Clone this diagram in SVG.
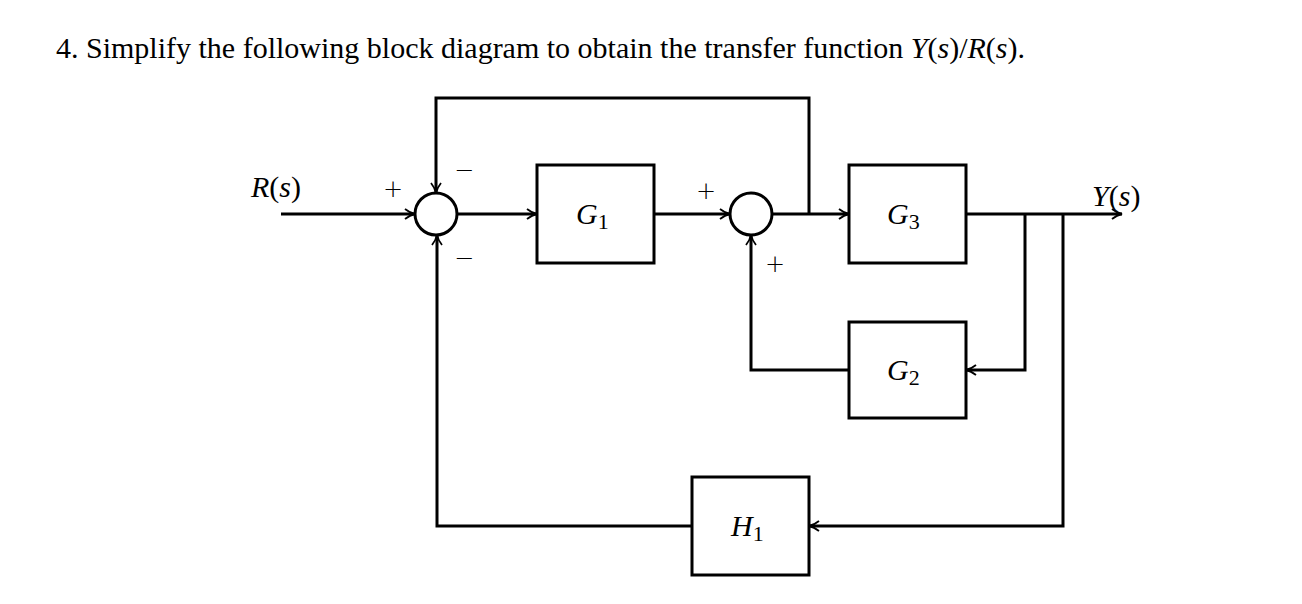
<svg xmlns="http://www.w3.org/2000/svg" width="1302" height="604" viewBox="0 0 1302 604">
<style>
.ln{fill:none;stroke:#000;stroke-width:3}
.bx{fill:#fff;stroke:#000;stroke-width:3}
.t{font-family:"Liberation Serif",serif;font-size:30px}
.g{font-family:"Liberation Serif",serif;font-size:30px}
.p{font-family:"DejaVu Sans",sans-serif;font-size:24px;font-weight:200}
</style>
<defs>
<marker id="a" viewBox="0 0 12 12" refX="11" refY="6" markerWidth="12" markerHeight="12" markerUnits="userSpaceOnUse" orient="auto"><path d="M1,1 Q6,5 11,6 Q6,7 1,11" fill="none" stroke="#000" stroke-width="1.8"/></marker>
</defs>
<rect width="1302" height="604" fill="#fff"/>
<text class="t" x="56" y="58">4. Simplify the following block diagram to obtain the transfer function <tspan font-style="italic">Y</tspan>(<tspan font-style="italic">s</tspan>)/<tspan font-style="italic">R</tspan>(<tspan font-style="italic">s</tspan>).</text>
<g id="connectors">
<path class="ln" d="M281,214 H415" marker-end="url(#a)"/>
<path class="ln" d="M457,214 H537" marker-end="url(#a)"/>
<path class="ln" d="M654,214 H730" marker-end="url(#a)"/>
<path class="ln" d="M772,214 H849" marker-end="url(#a)"/>
<path class="ln" d="M809,214 V98 H436 V193" marker-end="url(#a)"/>
<path class="ln" d="M966,214 H1122" marker-end="url(#a)"/>
<path class="ln" d="M1025,214 V370 H966" marker-end="url(#a)"/>
<path class="ln" d="M849,370 H751 V235" marker-end="url(#a)"/>
<path class="ln" d="M1063,214 V526 H809" marker-end="url(#a)"/>
<path class="ln" d="M692,526 H437 V235" marker-end="url(#a)"/>
</g>
<g id="sum1"><circle class="bx" cx="436" cy="214" r="21"/></g>
<g id="sum2"><circle class="bx" cx="751" cy="214" r="21"/></g>
<g id="G1"><rect class="bx" x="537" y="165" width="117" height="98"/><text class="g" x="576" y="224"><tspan font-style="italic">G</tspan><tspan font-size="22" dy="5">1</tspan></text></g>
<g id="G3"><rect class="bx" x="849" y="165" width="117" height="98"/><text class="g" x="887" y="224"><tspan font-style="italic">G</tspan><tspan font-size="22" dy="5">3</tspan></text></g>
<g id="G2"><rect class="bx" x="849" y="322" width="117" height="96"/><text class="g" x="887" y="380"><tspan font-style="italic">G</tspan><tspan font-size="22" dy="5">2</tspan></text></g>
<g id="H1"><rect class="bx" x="692" y="477" width="117" height="98"/><text class="g" x="731" y="536"><tspan font-style="italic">H</tspan><tspan font-size="22" dy="5">1</tspan></text></g>
<text class="g" x="251" y="197"><tspan font-style="italic">R</tspan>(<tspan font-style="italic">s</tspan>)</text>
<text class="g" x="1092" y="206"><tspan font-style="italic">Y</tspan>(<tspan font-style="italic">s</tspan>)</text>
<text class="p" x="383" y="197">+</text>
<text class="p" x="454" y="178">−</text>
<text class="p" x="454" y="266">−</text>
<text class="p" x="696" y="199">+</text>
<text class="p" x="765" y="272">+</text>
</svg>
